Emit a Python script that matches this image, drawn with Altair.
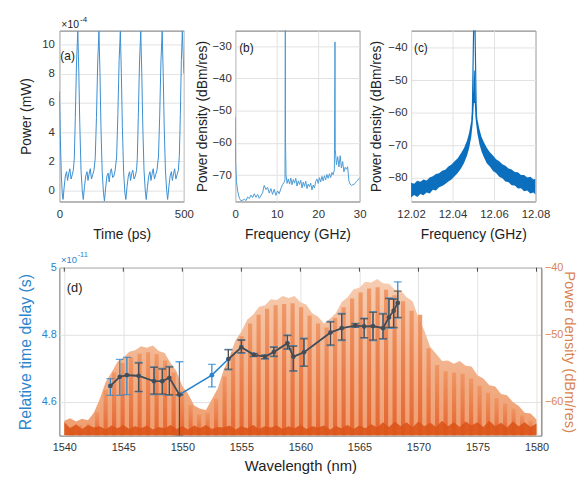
import altair as alt
import pandas as pd

FONT = "Liberation Sans"

# ---------------- (a) time trace, units of 1e-4 mW ----------------
t_ps = [0, 4, 8, 12, 15, 19, 24, 29, 33, 38, 42, 47, 52, 56, 60, 64, 69, 74,
        78, 82, 87, 92, 96, 101, 106, 111, 115, 120, 124, 129, 134, 139, 144, 149, 154, 159,
        163, 167, 172, 177, 181, 186, 191, 196, 200, 205, 209, 214, 219, 224, 230, 235, 240, 245,
        249, 253, 258, 263, 267, 272, 277, 282, 286, 291, 295, 300, 305, 310, 313, 317, 322, 327,
        331, 335, 340, 345, 349, 354, 359, 364, 368, 373, 377, 382, 387, 392, 398, 403, 408, 413,
        417, 421, 426, 431, 435, 440, 445, 450, 454, 459, 463, 468, 473, 478, 482, 486, 490, 494,
        498, 500]
p_mw = [6.8, 3.5, 1.0, -0.3, -0.6, 0.2, 1.0, 1.3, 0.7, 1.2, 1.5, 0.8, 1.1, 1.4, 2.2, 5.0, 8.8, 10.9,
        8.2, 4.6, 1.4, 0.0, -0.6, 0.3, 1.0, 1.3, 0.7, 1.2, 1.5, 0.8, 1.1, 1.4, 2.2, 5.0, 8.8, 10.9,
        8.1, 4.4, 1.3, -0.1, -0.7, 0.2, 1.0, 1.2, 0.6, 1.3, 1.5, 0.9, 1.0, 1.4, 2.3, 5.2, 8.9, 10.9,
        8.0, 4.4, 1.3, -0.1, -0.6, 0.3, 1.0, 1.3, 0.7, 1.2, 1.4, 0.8, 1.0, 1.4, 2.2, 5.0, 8.8, 10.9,
        8.0, 4.5, 1.4, 0.0, -0.6, 0.3, 1.0, 1.3, 0.7, 1.2, 1.5, 0.8, 1.1, 1.4, 2.3, 5.1, 8.8, 10.9,
        8.1, 4.5, 1.4, 0.0, -0.6, 0.3, 1.0, 1.3, 0.7, 1.2, 1.5, 0.8, 1.1, 1.4, 2.4, 5.2, 8.9, 10.9,
        9.0, 8.0]

# ---------------- (b) RF spectrum ----------------
fb_ghz = [0.0, 0.1, 0.3, 0.6, 1.0, 1.4, 1.8, 2.2, 2.6, 3.0,
          3.4, 3.8, 4.2, 4.6, 5.0, 5.4, 5.8, 6.2, 6.6, 7.0,
          7.4, 7.8, 8.2, 8.6, 9.0, 9.4, 9.8, 10.2, 10.6, 11.0,
          11.4, 11.8, 12.0, 12.08, 12.13, 12.25, 12.5, 12.8, 13.1, 13.4,
          13.7, 14.0, 14.3, 14.6, 14.9, 15.2, 15.5, 15.8, 16.1, 16.4,
          16.7, 17.0, 17.3, 17.6, 17.9, 18.2, 18.5, 18.8, 19.1, 19.4,
          19.7, 20.0, 20.3, 20.6, 20.9, 21.2, 21.5, 21.8, 22.1, 22.4,
          22.7, 23.0, 23.3, 23.6, 23.9, 24.05, 24.12, 24.2, 24.4, 24.7,
          25.0, 25.3, 25.6, 25.9, 26.2, 26.5, 26.8, 27.1, 27.4, 27.7,
          28.0, 28.4, 28.8, 29.2, 29.6, 30.0]
pb_dbm = [-52.0, -66.0, -72.0, -75.0, -77.2, -78.0, -77.8, -77.5, -77.9, -76.8,
          -77.3, -76.2, -77.0, -75.8, -76.9, -76.0, -77.2, -76.4, -75.5, -73.2,
          -74.5, -73.8, -75.6, -74.2, -76.0, -74.4, -76.3, -74.9, -75.8, -74.2,
          -73.0, -72.2, -71.5, -20.0, -60.0, -70.0, -72.6, -71.2, -72.8, -70.9,
          -73.0, -71.4, -72.5, -71.0, -73.4, -71.8, -72.9, -71.6, -74.0, -72.2,
          -73.5, -71.9, -74.2, -72.8, -73.6, -72.5, -74.6, -73.1, -74.0, -72.0,
          -71.2, -72.6, -70.8, -72.1, -70.4, -71.8, -70.2, -71.5, -69.8, -71.0,
          -69.6, -70.8, -69.2, -69.9, -68.4, -28.7, -62.0, -63.5, -66.8, -64.3,
          -67.5, -64.0, -67.8, -65.8, -69.0, -67.6, -68.2, -67.4, -71.8, -72.8,
          -73.2, -73.0, -72.7, -72.0, -71.5, -70.8]

# ---------------- (c) zoom on the 12.05 GHz line ----------------
fc_ghz = [12.0200, 12.0215, 12.0230, 12.0245, 12.0260, 12.0275, 12.0290, 12.0305, 12.0320, 12.0335,
          12.0350, 12.0365, 12.0380, 12.0395, 12.0410, 12.0425, 12.0440, 12.0455, 12.0470, 12.0480,
          12.0490, 12.0497, 12.0503, 12.0507, 12.0513, 12.0520, 12.0530, 12.0540, 12.0550, 12.0565,
          12.0580, 12.0595, 12.0610, 12.0625, 12.0640, 12.0655, 12.0670, 12.0685, 12.0700, 12.0715,
          12.0730, 12.0745, 12.0760, 12.0775, 12.0790, 12.0800]
pc_lo = [-86.2, -85.4, -86.0, -85.1, -85.5, -84.6, -84.9, -83.8, -84.0, -83.0,
         -82.6, -82.0, -81.2, -80.6, -79.6, -78.6, -77.3, -75.6, -73.2, -71.0,
         -67.6, -63.5, -57.0, -57.0, -63.0, -66.5, -69.8, -72.0, -73.6, -75.6,
         -76.6, -78.0, -78.6, -79.8, -80.2, -81.2, -81.5, -82.4, -82.5, -83.4,
         -83.3, -84.2, -84.0, -84.9, -84.6, -85.3]
pc_hi = [-81.6, -81.9, -81.0, -81.3, -80.6, -80.9, -80.0, -79.6, -78.9, -78.7,
         -77.9, -77.6, -76.6, -76.0, -75.0, -74.1, -72.6, -71.0, -68.6, -66.2,
         -62.6, -57.5, -47.0, -47.0, -57.0, -62.0, -65.2, -67.5, -69.0, -70.8,
         -72.2, -73.2, -74.4, -75.0, -75.9, -76.4, -77.2, -77.5, -78.3, -78.4,
         -79.2, -79.2, -80.0, -79.8, -80.6, -80.4]
spike_ghz = [12.0495, 12.0505, 12.0515]
spike_dbm = [-62.0, -20.0, -62.0]

# ---------------- (d) optical spectrum + time delay ----------------
env_nm = [1540.0, 1540.5, 1541.0, 1541.5, 1542.0, 1542.5, 1543.0, 1543.5, 1544.0, 1544.5,
          1545.0, 1545.5, 1546.0, 1546.5, 1547.0, 1547.5, 1548.0, 1548.5, 1549.0, 1549.5,
          1550.0, 1550.5, 1551.0, 1551.5, 1552.0, 1552.5, 1553.0, 1553.5, 1554.0, 1554.5,
          1555.0, 1555.5, 1556.0, 1556.5, 1557.0, 1557.5, 1558.0, 1558.5, 1559.0, 1559.5,
          1560.0, 1560.5, 1561.0, 1561.5, 1562.0, 1562.5, 1563.0, 1563.5, 1564.0, 1564.5,
          1565.0, 1565.5, 1566.0, 1566.5, 1567.0, 1567.5, 1568.0, 1568.5, 1569.0, 1569.5,
          1570.0, 1570.5, 1571.0, 1571.5, 1572.0, 1572.5, 1573.0, 1573.5, 1574.0, 1574.5,
          1575.0, 1575.5, 1576.0, 1576.5, 1577.0, 1577.5, 1578.0, 1578.5, 1579.0, 1579.5,
          1580.0]
env_dbm = [-62.8, -62.4, -62.9, -62.5, -62.7, -61.6, -59.6, -57.0, -55.6, -54.0,
           -53.4, -52.5, -52.3, -51.7, -51.9, -51.6, -52.4, -52.7, -54.2, -55.4,
           -57.6, -58.8, -60.5, -61.0, -61.2, -59.6, -58.0, -55.2, -53.2, -50.8,
           -49.5, -47.7, -47.0, -45.8, -45.6, -44.7, -44.8, -44.2, -44.5, -44.2,
           -45.1, -45.5, -46.8, -47.3, -48.3, -47.6, -46.8, -45.1, -44.4, -43.2,
           -43.0, -42.1, -42.2, -41.7, -42.3, -42.4, -43.3, -43.4, -44.4, -45.0,
           -47.4, -49.4, -51.8, -52.8, -53.9, -53.8, -54.3, -53.9, -54.6, -54.7,
           -56.0, -56.5, -57.5, -57.7, -58.8, -59.0, -60.0, -60.6, -61.6, -61.7,
           -62.6]
floor_dbm = [-63.0, -63.9, -63.3, -64.0, -63.4, -63.8, -63.6, -64.1, -63.5, -63.9,
             -63.4, -64.0, -63.6, -63.9, -63.5, -64.1, -63.7, -63.9, -63.4, -64.0,
             -63.6, -64.1, -63.5, -63.9, -63.4, -64.0, -63.7, -63.8, -63.5, -64.1,
             -63.6, -63.9, -63.4, -64.0, -63.6, -63.8, -63.5, -64.0, -63.6, -63.9,
             -63.4, -64.0, -63.6, -63.8, -63.5, -64.1, -63.6, -63.9, -63.4, -64.0,
             -63.5, -63.9, -63.3, -63.8, -63.0, -63.7, -62.9, -63.6, -63.0, -63.8,
             -62.9, -63.6, -63.1, -63.7, -62.8, -63.6, -63.0, -63.7, -62.9, -63.5,
             -63.0, -63.7, -62.8, -63.6, -63.1, -63.8, -62.9, -63.6, -63.0, -63.7,
             -63.2]
comb_nm = [1540.62, 1541.34, 1542.06, 1542.78, 1543.50, 1544.22, 1544.94, 1545.66, 1546.38, 1547.10,
           1547.82, 1548.54, 1549.26, 1549.98, 1550.70, 1551.42, 1552.14, 1552.86, 1553.58, 1554.30,
           1555.02, 1555.74, 1556.46, 1557.18, 1557.90, 1558.62, 1559.34, 1560.06, 1560.78, 1561.50,
           1562.22, 1562.94, 1563.66, 1564.38, 1565.10, 1565.82, 1566.54, 1567.26, 1567.98, 1568.70,
           1569.42, 1570.14, 1570.86, 1571.58, 1572.30, 1573.02, 1573.74, 1574.46, 1575.18, 1575.90,
           1576.62, 1577.34, 1578.06, 1578.78, 1579.50]
comb_dbm = [-63.6, -63.4, -63.2, -61.5, -58.2, -55.6, -54.2, -53.3, -52.8, -52.6,
            -52.9, -53.8, -55.6, -58.4, -60.4, -61.8, -61.6, -59.5, -56.2, -52.6,
            -50.2, -48.3, -47.0, -46.1, -45.6, -45.4, -45.3, -45.9, -47.1, -48.3,
            -48.9, -47.5, -45.9, -44.6, -43.7, -43.1, -42.9, -43.3, -44.1, -45.0,
            -46.4, -47.0, -52.0, -54.5, -55.4, -55.6, -55.8, -56.5, -57.6, -58.6,
            -59.4, -60.2, -61.0, -62.0, -62.8]

wl_nm = [1543.9, 1544.7, 1545.3, 1546.3, 1547.6, 1548.3, 1548.9, 1549.75, 1552.5, 1553.9,
         1555.0, 1556.05, 1557.0, 1557.75, 1558.9, 1559.4, 1560.3, 1562.55, 1563.5, 1564.65,
         1565.4, 1566.15, 1567.0, 1567.5, 1567.9, 1568.25]
delay_e11 = [4.648, 4.675, 4.680, 4.678, 4.662, 4.662, 4.672, 4.622, 4.680, 4.728,
             4.763, 4.741, 4.735, 4.749, 4.775, 4.735, 4.748, 4.807, 4.820, 4.828,
             4.825, 4.826, 4.820, 4.852, 4.872, 4.895]
blue_lo = [4.620, 4.620, 4.622, 4.630, 4.622, 4.622, 4.620, 4.620, 4.645, 4.696,
           4.745, 4.735, 4.728, 4.735, 4.757, 4.692, 4.706, 4.768, 4.783, 4.822,
           4.790, 4.783, 4.787, 4.820, 4.820, 4.850]
blue_hi = [4.670, 4.727, 4.733, 4.718, 4.705, 4.700, 4.706, 4.720, 4.712, 4.757,
           4.786, 4.745, 4.740, 4.765, 4.800, 4.768, 4.790, 4.840, 4.864, 4.834,
           4.850, 4.869, 4.864, 4.910, 4.908, 4.958]
dark_lo = [None, None, None, 4.632, 4.624, 4.624, 4.622, 4.500, None, 4.698,
           4.747, 4.736, 4.729, 4.737, 4.758, 4.693, 4.707, 4.770, 4.785, 4.823,
           4.792, 4.785, 4.789, 4.822, 4.822, 4.852]
dark_hi = [None, None, None, 4.716, 4.703, 4.698, 4.704, 4.622, None, 4.755,
           4.784, 4.744, 4.739, 4.763, 4.798, 4.766, 4.788, 4.838, 4.862, 4.833,
           4.848, 4.867, 4.862, 4.908, 4.906, 4.930]
dark_seg = ["A", "A", "A", "A", "A", "A", "A", "A", None, "B",
            "B", "B", "B", "B", "B", "B", "B", "B", "B", "B",
            "B", "B", "B", "B", "B", "B"]
wl_ticks = [1540, 1545, 1550, 1555, 1560, 1565, 1570, 1575, 1580]

# ---------------- styling helpers ----------------
BLUE = "#2a84cc"
ORANGE = "#d9844f"
DARK = "#4c4a4a"
LABEL = "#333333"
TITLE = "#222222"
GRID = "#e2e2e2"
dummy = alt.Data(values=[{"k": 0}])


def axis(values, title, gap, orient, tsize, lsize, lpad, ext, color=LABEL, tcolor=TITLE,
         grid=True, fmt=None):
    kw = dict(values=values, title=title, orient=orient, grid=grid, gridColor=GRID,
              gridWidth=1, ticks=False, domain=False, labelPadding=lpad,
              labelFontSize=lsize, titleFontSize=tsize, titleFontWeight="normal",
              labelColor=color, titleColor=tcolor, labelFlush=False, labelOverlap=False,
              minExtent=ext, maxExtent=ext, titlePadding=gap - ext)
    if fmt:
        kw["format"] = fmt
    return alt.Axis(**kw)


def text(label, x, y, size, color="#1a1a1a"):
    return alt.Chart(dummy).mark_text(text=label, align="left", baseline="middle",
                                      fontSize=size, color=color).encode(
        x=alt.value(x), y=alt.value(y))


def extender(x, y, y2):
    return alt.Chart(dummy).mark_rule(strokeOpacity=0).encode(
        x=alt.value(x), y=alt.value(y), y2=alt.value(y2))


W, H = 126, 173
WD, HD = 488, 170

# (a)
da = pd.DataFrame({"t": t_ps, "p": p_mw})
line_a = alt.Chart(da).mark_line(color="#3a8dd0", strokeWidth=1, clip=True).encode(
    x=alt.X("t:Q", scale=alt.Scale(domain=[0, 500], nice=False),
            axis=axis([0, 500], "Time (ps)", 26, "bottom", 14, 11.5, 7, 18)),
    y=alt.Y("p:Q", scale=alt.Scale(domain=[-0.74, 10.95], nice=False, zero=False),
            axis=axis([0, 2, 4, 6, 8, 10], "Power (mW)", 26, "left", 14, 11.5, 5, 20)))
panel_a = alt.layer(line_a, text("(a)", 1, 26, 12), text("×10", 2, -6, 10.5),
                    text("-4", 21, -11, 8), extender(-51, -19, 216)).properties(width=W, height=H)

# (b)
dbb = pd.DataFrame({"f": fb_ghz, "p": pb_dbm})
line_b = alt.Chart(dbb).mark_line(color="#4b9bd5", strokeWidth=1, clip=True).encode(
    x=alt.X("f:Q", scale=alt.Scale(domain=[0, 30], nice=False),
            axis=axis([0, 10, 20, 30], "Frequency (GHz)", 26, "bottom", 14, 11.5, 7, 18)),
    y=alt.Y("p:Q", scale=alt.Scale(domain=[-78.2, -25.2], nice=False, zero=False),
            axis=axis([-70, -60, -50, -40, -30], "Power density (dBm/res)", 26, "left",
                      14, 11.5, 4, 20)))
panel_b = alt.layer(line_b, text("(b)", 4, 18, 12)).properties(width=W, height=H)

# (c)
dc = pd.DataFrame({"f": fc_ghz, "lo": pc_lo, "hi": pc_hi})
ds = pd.DataFrame({"f": spike_ghz, "p": spike_dbm})
xc = alt.X("f:Q", scale=alt.Scale(domain=[12.02, 12.08], nice=False, zero=False),
           axis=axis([12.02, 12.04, 12.06, 12.08], "Frequency (GHz)", 26, "bottom",
                     14, 11.5, 7, 18, fmt=".2f"))
yc = alt.Y("lo:Q", scale=alt.Scale(domain=[-87.4, -34.7], nice=False, zero=False),
           axis=axis([-80, -70, -60, -50, -40], "Power density (dBm/res)", 27.5, "left",
                     14, 11.5, 4, 20))
band_c = alt.Chart(dc).mark_area(color="#0b6fbd", clip=True).encode(x=xc, y=yc, y2="hi:Q")
spike_c = alt.Chart(ds).mark_line(color="#0b6fbd", strokeWidth=1.2, clip=True).encode(
    x=alt.X("f:Q", scale=alt.Scale(domain=[12.02, 12.08], nice=False, zero=False)),
    y=alt.Y("p:Q", scale=alt.Scale(domain=[-87.4, -34.7], nice=False, zero=False)))
panel_c = alt.layer(band_c, spike_c, text("(c)", 3, 18, 12)).properties(width=W, height=H)

top = alt.hconcat(panel_a, panel_b, panel_c, spacing=52, bounds="flush")

# (d)
xd_scale = alt.Scale(domain=[1540, 1580], nice=False, zero=False)
xd_axis = axis(wl_ticks, "Wavelength (nm)", 23, "bottom", 15, 11, 6, 17, fmt="d")
ys_scale = alt.Scale(domain=[-65, -40], nice=False, zero=False)
ys_axis = axis([-60, -50, -40], "Power density (dBm/res)", 20, "right", 15, 11, 3, 20,
               color=ORANGE, tcolor=ORANGE, grid=False)
yd_scale = alt.Scale(domain=[4.5, 5.0], nice=False, zero=False)
yd_axis = axis([4.6, 4.8, 5.0], "Relative time delay (s)", 26.7, "left", 16, 11, 3, 20,
               color=BLUE, tcolor=BLUE, fmt=".1~f")

denv = pd.DataFrame({"wl": env_nm, "p": env_dbm, "fl": floor_dbm, "base": [-65.0] * len(env_nm)})
dcomb = pd.DataFrame({"wl": comb_nm, "p": comb_dbm, "base": [-65.0] * len(comb_nm)})
xd = alt.X("wl:Q", scale=xd_scale, axis=xd_axis)

peach = alt.Chart(denv).mark_area(
    clip=True,
    color=alt.Gradient(gradient="linear",
                       stops=[alt.GradientStop(color="#ef9d6e", offset=0),
                              alt.GradientStop(color="#f6cdb2", offset=1)],
                       x1=1, x2=1, y1=1, y2=0)).encode(
    x=xd, y=alt.Y("p:Q", scale=ys_scale, axis=ys_axis), y2="base:Q")
teeth = alt.Chart(dcomb).mark_bar(
    size=4.2, clip=True, opacity=0.92,
    color=alt.Gradient(gradient="linear",
                       stops=[alt.GradientStop(color="#e4602a", offset=0),
                              alt.GradientStop(color="#ef9462", offset=1)],
                       x1=1, x2=1, y1=1, y2=0)).encode(
    x=xd, y=alt.Y("p:Q", scale=ys_scale, axis=ys_axis), y2="base:Q")
floor = alt.Chart(denv).mark_area(color="#dc5419", opacity=0.9, clip=True).encode(
    x=xd, y=alt.Y("fl:Q", scale=ys_scale, axis=ys_axis), y2="base:Q")
spectrum = alt.layer(peach, teeth, floor)

dd = pd.DataFrame({"wl": wl_nm, "d": delay_e11, "blo": blue_lo, "bhi": blue_hi,
                   "dlo": dark_lo, "dhi": dark_hi, "seg": dark_seg})


def yd(field):
    return alt.Y(field, scale=yd_scale, axis=yd_axis)


base = alt.Chart(dd)
blue_line = base.mark_line(color=BLUE, strokeWidth=1.6, clip=True).encode(x=xd, y=yd("d:Q"))
blue_rule = base.mark_rule(color=BLUE, strokeWidth=1.2, clip=True).encode(
    x=xd, y=yd("blo:Q"), y2="bhi:Q")
blue_cap_lo = base.mark_tick(color=BLUE, orient="horizontal", size=8, thickness=1.3,
                             clip=True).encode(x=xd, y=yd("blo:Q"))
blue_cap_hi = base.mark_tick(color=BLUE, orient="horizontal", size=8, thickness=1.3,
                             clip=True).encode(x=xd, y=yd("bhi:Q"))
blue_pts = base.mark_circle(color=BLUE, size=24, opacity=1, clip=True).encode(x=xd, y=yd("d:Q"))

dark = base.transform_filter("isValid(datum.seg)")
dark_bars = base.transform_filter("isValid(datum.dlo)")
dark_line = dark.mark_line(color=DARK, strokeWidth=1.6, clip=True).encode(
    x=xd, y=yd("d:Q"), detail="seg:N")
dark_rule = dark_bars.mark_rule(color=DARK, strokeWidth=1.2, clip=True).encode(
    x=xd, y=yd("dlo:Q"), y2="dhi:Q")
dark_cap_lo = dark_bars.mark_tick(color=DARK, orient="horizontal", size=8, thickness=1.3,
                                  clip=True).encode(x=xd, y=yd("dlo:Q"))
dark_cap_hi = dark_bars.mark_tick(color=DARK, orient="horizontal", size=8, thickness=1.3,
                                  clip=True).encode(x=xd, y=yd("dhi:Q"))
dark_pts = dark.mark_circle(color=DARK, size=18, opacity=1, clip=True).encode(x=xd, y=yd("d:Q"))

delays = alt.layer(blue_line, blue_rule, blue_cap_lo, blue_cap_hi, blue_pts,
                   dark_line, dark_rule, dark_cap_lo, dark_cap_hi, dark_pts)

# inward ticks along the top edge and the orange right-hand frame edge (MATLAB yyaxis look)
top_ticks = alt.Chart(pd.DataFrame({"wl": wl_ticks})).mark_rule(
    color="#444444", strokeWidth=1).encode(x=xd, y=alt.value(0), y2=alt.value(4))
right_edge = alt.Chart(dummy).mark_rule(color=ORANGE, strokeWidth=1).encode(
    x=alt.value(WD), y=alt.value(0), y2=alt.value(HD))

panel_d = alt.layer(
    spectrum, delays, top_ticks, right_edge,
    text("(d)", 7.5, 21, 13), text("×10", 1.6, -7.6, 9.5, BLUE), text("-11", 18.5, -12.5, 7.5, BLUE),
    extender(-43.7, -22, 0)
).resolve_scale(y="independent").properties(width=WD, height=HD)

chart = alt.vconcat(top, panel_d, spacing=0).properties(padding=0).configure(
    font=FONT).configure_view(stroke="#6f6f6f", strokeWidth=1)

chart.save("out.html", embed_options={"renderer": "svg", "actions": False})
